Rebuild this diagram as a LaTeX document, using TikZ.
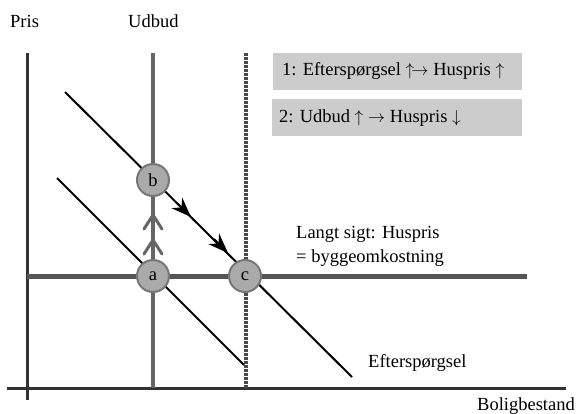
\documentclass[tikz,border=0pt]{standalone}
\usepackage{fontspec}
\setmainfont{Liberation Serif}
\usetikzlibrary{arrows.meta,decorations.markings}
\definecolor{axisc}{HTML}{333333}
\definecolor{supc}{HTML}{666666}
\definecolor{dotc}{HTML}{4A4A4A}
\definecolor{lrc}{HTML}{555555}
\definecolor{boxc}{HTML}{CCCCCC}
\definecolor{circc}{HTML}{AAAAAA}
\definecolor{circd}{HTML}{777777}
\tikzset{
  axis/.style={draw=axisc,line width=3pt},
  supply/.style={draw=supc,line width=4pt},
  dotline/.style={draw=dotc,line width=4pt,dash pattern=on 2.5pt off 1.5pt},
  lrline/.style={draw=lrc,line width=5pt},
  demand/.style={draw=black,line width=2pt},
  pt/.style={circle,fill=circc,draw=circd,line width=2pt,minimum size=32pt,inner sep=0pt,font=\fontsize{18.5}{20}\selectfont},
  infobox/.style={fill=boxc,draw=none},
  lbl/.style={font=\fontsize{18.5}{24}\selectfont,inner sep=0pt,anchor=base west},
  chev/.style={draw=supc,line width=3pt,line cap=round,line join=round}
}
\begin{document}
\begin{tikzpicture}[x=1pt,y=-1pt]
\useasboundingbox (0,0) rectangle (576,413);
% coordinates
\coordinate (yaT) at (27,53);
\coordinate (yaB) at (27,400);
\coordinate (xaL) at (7,388);
\coordinate (xaR) at (566,388);
\coordinate (sT) at (153,53);
\coordinate (sB) at (153,388);
\coordinate (dT) at (246,53);
\coordinate (dB) at (246,388);
\coordinate (lrL) at (27,276);
\coordinate (lrR) at (527,276);
\coordinate (d1s) at (57,178);
\coordinate (d1e) at (244,365);
\coordinate (d2s) at (65,92);
\coordinate (d2e) at (352,377);
% boxes
\fill[infobox] (273,53) rectangle (522,90);
\fill[infobox] (272,99) rectangle (522,136);
% axes and lines
\draw[axis] (yaT) -- (yaB);
\draw[axis] (xaL) -- (xaR);
\draw[supply] (sT) -- (sB);
\draw[dotline] (dT) -- (dB);
\draw[lrline] (lrL) -- (lrR);
% chevrons
\coordinate (ch1) at (153,215);
\coordinate (ch2) at (153,240);
\draw[chev] ([shift={(-9,14)}]ch1) -- (ch1) -- ([shift={(9,14)}]ch1);
\draw[chev] ([shift={(-9,14)}]ch2) -- (ch2) -- ([shift={(9,14)}]ch2);
% demand lines
\draw[demand] (d1s) -- (d1e);
\draw[demand] (d2s) -- (d2e);
\coordinate (ah1) at (191,217);
\coordinate (ah2) at (228,253);
\draw[demand,-{Stealth[length=20pt,width=15pt]}] ([shift={(-14,-14)}]ah1) -- (ah1);
\draw[demand,-{Stealth[length=20pt,width=15pt]}] ([shift={(-14,-14)}]ah2) -- (ah2);
% points
\node[pt] (a) at (153,276) {a};
\node[pt] (b) at (153,180) {b};
\node[pt] (c) at (245,276) {c};
% labels
\node[lbl] (pris) at (10,27) {Pris};
\node[lbl] (udbud) at (128,27) {Udbud};
\node[lbl] (t1) at (282,75) {1: Efterspørgsel $\uparrow\!\rightarrow$ Huspris $\uparrow$};
\node[lbl] (t2) at (279,122) {2: Udbud $\uparrow$ $\rightarrow$ Huspris $\downarrow$};
\node[lbl] (ls1) at (296,238) {Langt sigt: Huspris};
\node[lbl] (ls2) at (296,262) {= byggeomkostning};
\node[lbl] (eft) at (368,367) {Efterspørgsel};
\node[lbl,anchor=base east] (bol) at (575,410) {Boligbestand};
\end{tikzpicture}
\end{document}
